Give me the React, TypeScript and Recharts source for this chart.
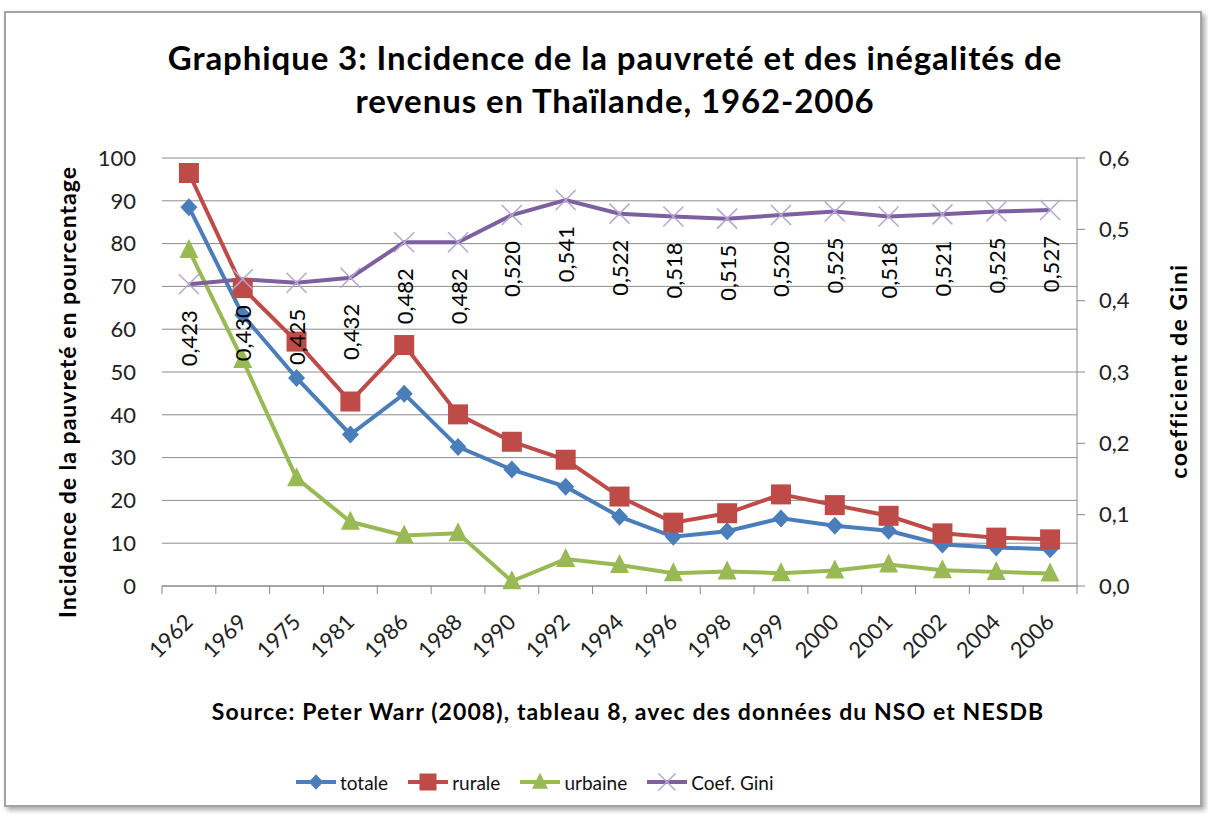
import React from "react";
import { CartesianGrid, ComposedChart, LabelList, Line, XAxis, YAxis } from "recharts";

const years = ["1962", "1969", "1975", "1981", "1986", "1988", "1990", "1992", "1994", "1996", "1998", "1999", "2000", "2001", "2002", "2004", "2006"];
const totale = [88.5, 63.3, 48.6, 35.4, 44.9, 32.5, 27.2, 23.2, 16.2, 11.5, 12.8, 15.8, 14.1, 12.9, 9.7, 9.0, 8.6];
const rurale = [96.5, 69.6, 57.1, 43.1, 56.3, 40.1, 33.7, 29.5, 20.9, 14.8, 17.0, 21.4, 18.9, 16.4, 12.3, 11.3, 10.9];
const urbaine = [78.5, 52.8, 25.2, 15.0, 11.8, 12.3, 1.1, 6.3, 4.9, 3.0, 3.4, 3.0, 3.6, 5.0, 3.7, 3.3, 2.9];
const gini = [0.423, 0.43, 0.425, 0.432, 0.482, 0.482, 0.52, 0.541, 0.522, 0.518, 0.515, 0.52, 0.525, 0.518, 0.521, 0.525, 0.527];
const leftTicks = [0, 10, 20, 30, 40, 50, 60, 70, 80, 90, 100];
const rightTicks = [0, 0.1, 0.2, 0.3, 0.4, 0.5, 0.6];

const data = years.map((year, i) => ({ year, totale: totale[i], rurale: rurale[i], urbaine: urbaine[i], gini: gini[i] }));

const FONT = "Lato, 'Open Sans', sans-serif";
const BLUE = "#4a7ebb";
const RED = "#be4b48";
const GREEN = "#98b954";
const PURPLE = "#7d60a0";
const PURPLE_LIGHT = "#b5a6d0";

const PLOT_LEFT = 162;
const PLOT_RIGHT = 1077;
const PLOT_TOP = 158;
const PLOT_BOTTOM = 586;
const BAND = (PLOT_RIGHT - PLOT_LEFT) / years.length;

const comma = (v: number, d: number) => v.toFixed(d).replace(".", ",");

function Diamond({ cx, cy, s = 1 }: any) {
  return <polygon points={`${cx},${cy - 9 * s} ${cx + 8.5 * s},${cy} ${cx},${cy + 9 * s} ${cx - 8.5 * s},${cy}`} fill={BLUE} />;
}
function Square({ cx, cy, s = 1 }: any) {
  return <rect x={cx - 10 * s} y={cy - 10 * s} width={20 * s} height={20 * s} fill={RED} />;
}
function Triangle({ cx, cy, s = 1 }: any) {
  return <polygon points={`${cx},${cy - 11 * s} ${cx + 9.5 * s},${cy + 8 * s} ${cx - 9.5 * s},${cy + 8 * s}`} fill={GREEN} />;
}
function Cross({ cx, cy, s = 1 }: any) {
  const r = 10 * s;
  return (
    <g stroke={PURPLE_LIGHT} strokeWidth={1.5}>
      <line x1={cx - r} y1={cy - r} x2={cx + r} y2={cy + r} />
      <line x1={cx - r} y1={cy + r} x2={cx + r} y2={cy - r} />
    </g>
  );
}

const series = [
  { key: "totale", name: "totale", color: BLUE, Marker: Diamond },
  { key: "rurale", name: "rurale", color: RED, Marker: Square },
  { key: "urbaine", name: "urbaine", color: GREEN, Marker: Triangle },
];

function XTick({ x, payload, index }: any) {
  const last = index === years.length - 1;
  const tx = x;
  const ty = PLOT_BOTTOM + 32;
  return (
    <g>
      <line x1={x - BAND / 2} y1={PLOT_BOTTOM} x2={x - BAND / 2} y2={PLOT_BOTTOM + 8} stroke="#888" />
      {last && <line x1={x + BAND / 2} y1={PLOT_BOTTOM} x2={x + BAND / 2} y2={PLOT_BOTTOM + 8} stroke="#888" />}
      <text x={tx} y={ty} textAnchor="end" dy="0.35em" transform={`rotate(-45, ${tx}, ${ty})`} fontSize={22} fill="#222" fontFamily={FONT}>
        {payload.value}
      </text>
    </g>
  );
}

function GiniLabel({ x, y, value }: any) {
  const ax = x;
  const ay = y + 26;
  return (
    <text x={ax} y={ay} textAnchor="end" dominantBaseline="central" transform={`rotate(-90, ${ax}, ${ay})`} fontSize={22} fill="#000" fontFamily={FONT}>
      {comma(Number(value), 3)}
    </text>
  );
}

function LegendItem({ name, color, Marker, first }: any) {
  return (
    <div style={{ display: "flex", alignItems: "center", marginLeft: first ? 0 : 19 }}>
      <svg width={42} height={24}>
        <line x1={1} y1={12} x2={41} y2={12} stroke={color} strokeWidth={4} />
        <Marker cx={21} cy={12} s={0.85} />
      </svg>
      <span style={{ marginLeft: 3, fontSize: 19, color: "#111" }}>{name}</span>
    </div>
  );
}

export default function App() {
  return (
    <div style={{ position: "absolute", left: 0, top: 0, width: 1208, height: 815, background: "#fff", fontFamily: FONT, overflow: "hidden" }}>
      <div style={{ position: "absolute", left: 4, top: 11, width: 1194, height: 792, border: "2px solid #a3a3a3", boxShadow: "3px 3px 5px rgba(0,0,0,0.35)", background: "#fff" }} />
      <div style={{ position: "absolute", left: 0, top: 36, width: 1230, textAlign: "center", fontWeight: 700, fontSize: 33, letterSpacing: 0.9, lineHeight: "43px", color: "#000" }}>
        Graphique 3: Incidence de la pauvreté et des inégalités de
        <br />
        revenus en Thaïlande, 1962-2006
      </div>
      <div style={{ position: "absolute", left: 67, top: 393, width: 0, height: 0 }}>
        <div style={{ position: "absolute", left: -300, top: -15, width: 600, textAlign: "center", transform: "rotate(-90deg)", fontWeight: 700, fontSize: 23, letterSpacing: 1, color: "#000", whiteSpace: "nowrap" }}>
          Incidence de la pauvreté en pourcentage
        </div>
      </div>
      <div style={{ position: "absolute", left: 1178, top: 372, width: 0, height: 0 }}>
        <div style={{ position: "absolute", left: -300, top: -15, width: 600, textAlign: "center", transform: "rotate(-90deg)", fontWeight: 700, fontSize: 23, letterSpacing: 1.5, color: "#000", whiteSpace: "nowrap" }}>
          coefficient de Gini
        </div>
      </div>
      <div style={{ position: "absolute", left: 0, top: 697, width: 1256, textAlign: "center", fontWeight: 700, fontSize: 23, letterSpacing: 1.1, color: "#000" }}>
        Source: Peter Warr (2008), tableau 8, avec des données du NSO et NESDB
      </div>
      <div style={{ position: "absolute", left: 295, top: 770, display: "flex", alignItems: "center" }}>
        {series.map((s, i) => (
          <LegendItem key={s.key} name={s.name} color={s.color} Marker={s.Marker} first={i === 0} />
        ))}
        <LegendItem name="Coef. Gini" color={PURPLE} Marker={Cross} />
      </div>
      <div style={{ position: "absolute", left: 0, top: 0 }}>
        <ComposedChart width={1208} height={815} data={data} margin={{ top: PLOT_TOP, left: PLOT_LEFT - 60, right: 1208 - PLOT_RIGHT - 60, bottom: 815 - PLOT_BOTTOM - 60 }}>
          <CartesianGrid vertical={false} stroke="#8c8c8c" yAxisId="left" />
          <XAxis dataKey="year" height={60} padding={{ left: BAND / 2, right: BAND / 2 }} tick={<XTick />} tickLine={false} axisLine={{ stroke: "#888" }} interval={0} />
          <YAxis yAxisId="left" width={60} domain={[0, 100]} ticks={leftTicks} tickLine={false} axisLine={false} tickSize={0} tickMargin={26} tick={{ fontSize: 22, fill: "#222", fontFamily: FONT }} />
          <YAxis yAxisId="right" orientation="right" width={60} domain={[0, 0.6]} ticks={rightTicks} tickFormatter={(v) => comma(Number(v), 1)} tickLine={{ stroke: "#888" }} axisLine={{ stroke: "#888" }} tickSize={8} tickMargin={14} tick={{ fontSize: 22, fill: "#222", fontFamily: FONT }} />
          {series.map((s) => (
            <Line key={s.key} yAxisId="left" dataKey={s.key} stroke={s.color} strokeWidth={4} isAnimationActive={false} dot={(p: any) => <s.Marker key={`${s.key}-${p.index}`} cx={p.cx} cy={p.cy} />} activeDot={false} />
          ))}
          <Line yAxisId="right" dataKey="gini" stroke={PURPLE} strokeWidth={4} isAnimationActive={false} dot={(p: any) => <Cross key={`g-${p.index}`} cx={p.cx} cy={p.cy} />} activeDot={false}>
            <LabelList dataKey="gini" content={<GiniLabel />} />
          </Line>
        </ComposedChart>
      </div>
    </div>
  );
}
